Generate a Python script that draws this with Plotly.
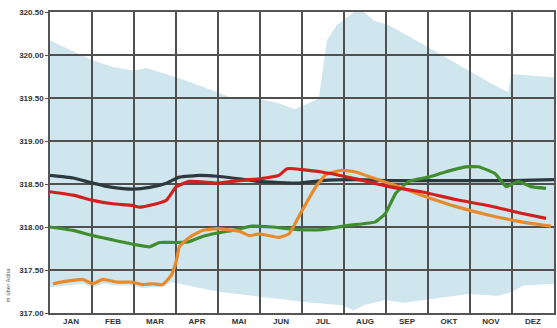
import plotly.graph_objects as go

# Month positions (0 = start of January, 12 = end of December)
months = ["JAN", "FEB", "MAR", "APR", "MAI", "JUN", "JUL", "AUG", "SEP", "OKT", "NOV", "DEZ"]
month_centers = [i + 0.5 for i in range(12)]

# Envelope: highest and lowest observed water levels
max_x = [0.0, 1.02, 1.49, 1.97, 2.30, 3.01, 3.98, 4.34, 4.98, 5.45, 5.83, 5.98, 6.40, 6.59,
         6.83, 7.23, 7.47, 7.71, 8.06, 9.01, 9.96, 10.43, 10.91, 10.98, 11.50, 12.0]
max_y = [320.17, 319.94, 319.86, 319.82, 319.85, 319.74, 319.57, 319.50, 319.49, 319.44,
         319.37, 319.40, 319.49, 320.17, 320.35, 320.50, 320.50, 320.40, 320.35, 320.09,
         319.82, 319.69, 319.57, 319.78, 319.76, 319.74]
min_x = [0.0, 0.40, 0.78, 1.02, 1.26, 1.59, 1.94, 2.21, 2.44, 2.68, 2.89, 3.56, 3.98,
         4.98, 5.69, 5.98, 6.95, 7.23, 7.47, 7.97, 8.42, 8.99, 9.96, 10.67, 11.03,
         11.26, 12.0]
min_y = [317.30, 317.32, 317.34, 317.30, 317.34, 317.32, 317.32, 317.29, 317.30, 317.30,
         317.36, 317.29, 317.25, 317.19, 317.15, 317.13, 317.09, 317.03, 317.09, 317.15,
         317.12, 317.16, 317.22, 317.20, 317.25, 317.32, 317.34]

# Mean level (dark line)
mean_x = [0.0, 0.55, 1.02, 1.49, 1.97, 2.37, 2.77, 3.08, 3.56, 3.98, 4.34, 4.98, 5.93,
          6.47, 7.28, 8.0, 9.0, 10.0, 11.0, 12.0]
mean_y = [318.60, 318.57, 318.51, 318.46, 318.44, 318.46, 318.51, 318.58, 318.60, 318.59,
          318.57, 318.53, 318.51, 318.54, 318.55, 318.54, 318.54, 318.54, 318.54, 318.55]

# Yearly series
red_x = [0.0, 0.55, 1.02, 1.49, 1.97, 2.13, 2.54, 2.77, 3.01, 3.32, 3.98, 4.34, 4.98,
         5.45, 5.62, 5.69, 6.47, 7.28, 8.06, 8.85, 9.65, 10.43, 11.22, 11.81]
red_y = [318.41, 318.37, 318.31, 318.27, 318.25, 318.23, 318.27, 318.31, 318.47, 318.53,
         318.51, 318.53, 318.56, 318.60, 318.67, 318.68, 318.64, 318.56, 318.47, 318.41,
         318.32, 318.25, 318.16, 318.10]

green_x = [0.0, 0.55, 1.02, 1.49, 1.97, 2.37, 2.61, 3.01, 3.32, 3.63, 3.98, 4.34, 4.81,
           5.29, 5.93, 6.47, 7.11, 7.75, 7.99, 8.23, 8.54, 9.01, 9.41, 9.89, 10.20,
           10.60, 10.86, 11.15, 11.45, 11.81]
green_y = [318.00, 317.96, 317.90, 317.85, 317.80, 317.77, 317.82, 317.82, 317.83, 317.89,
           317.93, 317.96, 318.01, 318.00, 317.97, 317.97, 318.02, 318.06, 318.16, 318.39,
           318.53, 318.58, 318.64, 318.70, 318.70, 318.62, 318.47, 318.53, 318.47, 318.45]

orange_x = [0.07, 0.40, 0.78, 1.02, 1.26, 1.59, 1.94, 2.21, 2.44, 2.68, 2.89, 3.01, 3.08,
            3.32, 3.63, 3.98, 4.20, 4.51, 4.74, 4.98, 5.45, 5.69, 6.00, 6.33, 6.57,
            6.95, 7.28, 7.75, 8.30, 8.85, 9.65, 10.43, 11.22, 11.93]
orange_y = [317.34, 317.37, 317.39, 317.34, 317.39, 317.36, 317.36, 317.33, 317.34, 317.33,
            317.44, 317.61, 317.77, 317.88, 317.96, 317.98, 317.97, 317.95, 317.90, 317.92,
            317.88, 317.92, 318.19, 318.47, 318.61, 318.66, 318.64, 318.56, 318.47, 318.37,
            318.24, 318.14, 318.06, 318.01]

y_ticks = [317.0, 317.5, 318.0, 318.5, 319.0, 319.5, 320.0, 320.5]
y_lo, y_hi = 317.0, 320.5

fig = go.Figure()

# Range between lowest and highest levels, as one closed polygon
fig.add_trace(go.Scatter(x=max_x + min_x[::-1], y=max_y + min_y[::-1], mode="lines",
                         line=dict(width=0), fill="toself", fillcolor="rgb(208,230,238)",
                         hoverinfo="skip", showlegend=False))

# Grid lines drawn on top of the shaded range, beneath the level curves
grid_color = "#505050"
for i in range(1, 12):
    fig.add_trace(go.Scatter(x=[i, i], y=[y_lo, y_hi], mode="lines",
                             line=dict(color=grid_color, width=2), showlegend=False))
for v in y_ticks[1:-1]:
    fig.add_trace(go.Scatter(x=[0, 12], y=[v, v], mode="lines",
                             line=dict(color=grid_color, width=2), showlegend=False))

line_styles = [
    (mean_x, mean_y, "#2c3a40"),
    (green_x, green_y, "#3f8d2e"),
    (orange_x, orange_y, "#e88a2b"),
    (red_x, red_y, "#d41f1f"),
]
for xs, ys, col in line_styles:
    fig.add_trace(go.Scatter(x=xs, y=ys, mode="lines",
                             line=dict(color=col, width=3.2, shape="spline", smoothing=0.4),
                             showlegend=False))

axis_font = dict(family="Liberation Sans", size=8, color="#333333")

fig.update_xaxes(
    range=[0, 12], showgrid=False, zeroline=False,
    tickmode="array", tickvals=month_centers, ticktext=["<b>%s</b>" % m for m in months],
    tickfont=axis_font, ticks="", showline=True, linecolor="#555555", linewidth=1.5,
    mirror=True,
)

fig.update_yaxes(
    range=[y_lo, y_hi], tickmode="array", tickvals=y_ticks,
    ticktext=["<b>%.2f</b>" % v for v in y_ticks], tickfont=axis_font,
    showgrid=False, zeroline=False,
    showline=True, linecolor="#555555", linewidth=1.5, mirror=True,
    ticks="outside", ticklen=3, tickcolor="#555555",
)

fig.add_annotation(text="m über Adria", x=0, y=0, xref="paper", yref="paper",
                   xanchor="right", yanchor="bottom", xshift=-38, yshift=8,
                   textangle=-90, showarrow=False,
                   font=dict(family="Liberation Sans", size=6, color="#555555"))

fig.update_layout(
    width=557, height=328,
    margin=dict(l=50, r=1, t=12, b=15),
    plot_bgcolor="white", paper_bgcolor="white",
)

fig.write_html("out.html")
